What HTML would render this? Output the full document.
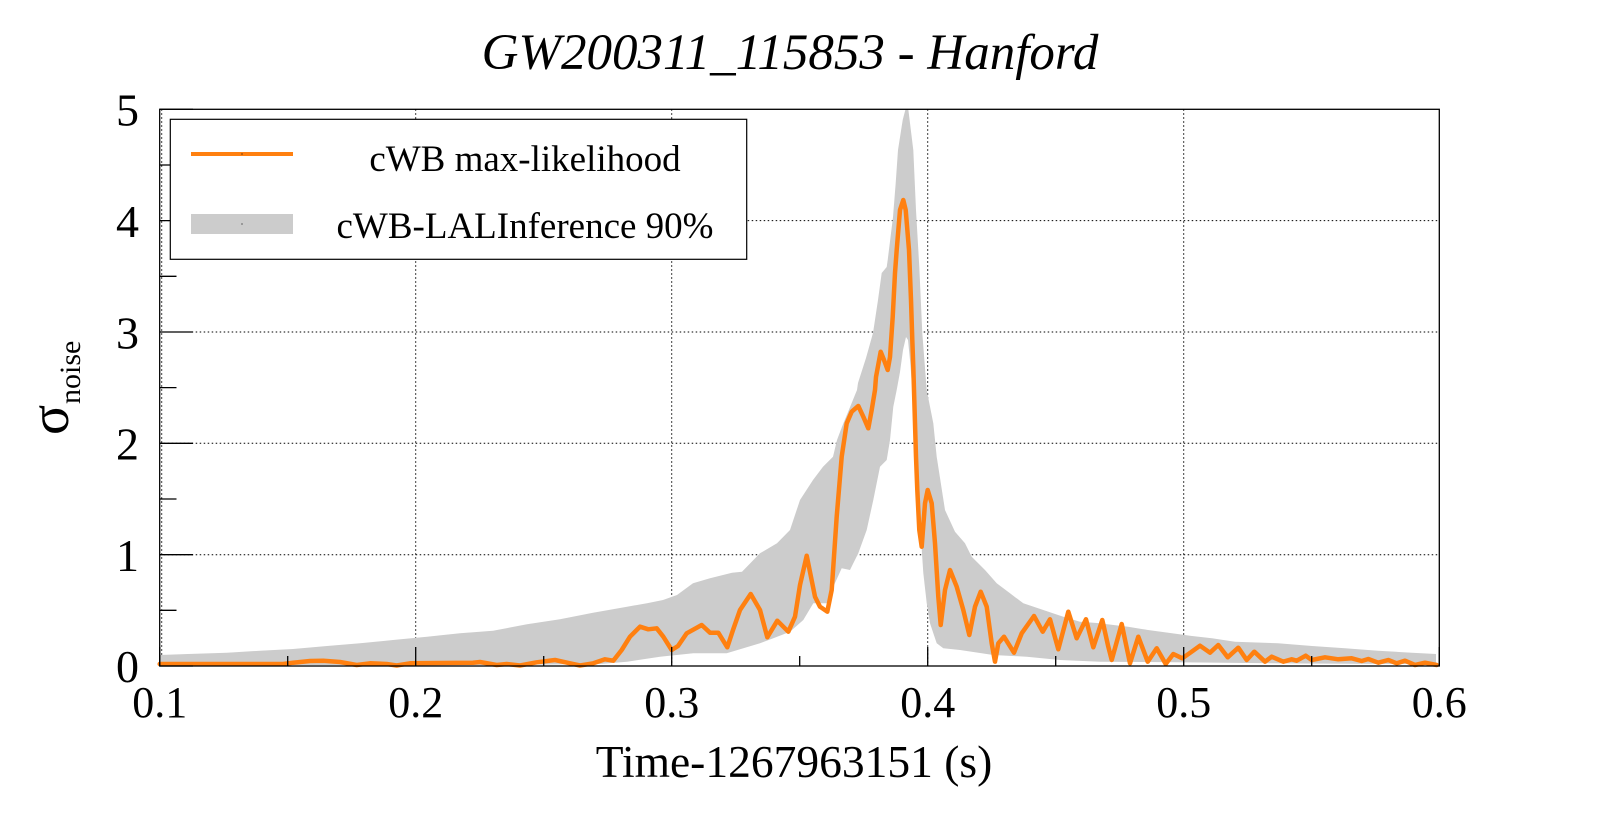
<!DOCTYPE html>
<html>
<head>
<meta charset="utf-8">
<style>
  html, body { margin: 0; padding: 0; background: #ffffff; }
  svg { display: block; }
  text { font-family: "Liberation Serif", "DejaVu Serif", serif; fill: #000; }
</style>
</head>
<body>
<svg width="1599" height="813" viewBox="0 0 1599 813" xmlns="http://www.w3.org/2000/svg">
  <rect x="0" y="0" width="1599" height="813" fill="#ffffff"/>

  <!-- Title -->
  <text x="790" y="69" font-size="51" font-style="italic" text-anchor="middle">GW200311_115853 - Hanford</text>

  <!-- Grid (dotted) -->
  <g stroke="#000" stroke-width="1" stroke-dasharray="1.5 2.5" fill="none">
    <line x1="415.7" y1="109.3" x2="415.7" y2="666"/>
    <line x1="671.7" y1="109.3" x2="671.7" y2="666"/>
    <line x1="927.7" y1="109.3" x2="927.7" y2="666"/>
    <line x1="1183.7" y1="109.3" x2="1183.7" y2="666"/>
    <line x1="159.7" y1="554.7" x2="1439.3" y2="554.7"/>
    <line x1="159.7" y1="443.3" x2="1439.3" y2="443.3"/>
    <line x1="159.7" y1="332" x2="1439.3" y2="332"/>
    <line x1="159.7" y1="220.6" x2="1439.3" y2="220.6"/>
    <line x1="161.7" y1="109.3" x2="161.7" y2="666"/>
  </g>

  <!-- Grey 90% band -->
  <polygon fill="#cccccc" stroke="none" points="
    159.7,655 188,654 227,652.7 260,650.7 293,649 327,646 360,643.3 393,640 427,636.7 460,633.3
    493,630.7 527,624.3 560,619.3 593,612.7 627,606.7 647,603.3 663,600 677,595 693,583.3 710,578.3
    732,572.7 742,571.7 760,553.3 777,543.3 790,530 800,500 813,480 823,466.7 833,456.7 837,440
    842,426.7 857,390 858,383 866,358 873,333 878,300 881.7,273 886.7,267 887.7,260 893,217
    895.7,183 898,150 902.7,120 905.5,109.3 908.3,109.3 913.3,150 916,210 919.3,267 922.3,333
    926.7,390 933.3,423.3 936.7,456.7 945,510 955,531.7 965,543.3 971.7,556.7 985,570 996.7,583.3
    1010,593.3 1023.3,603.3 1043.3,610 1063.3,616.7 1080,621.7 1097,623 1128,626.7 1148,630
    1172,633.3 1192,636 1212,638.3 1235,641.7 1278,643.3 1312,646 1345,648.3 1378,650.7
    1412,652.7 1436,654 1436,664
    1400,664 1300,663.5 1200,662.5 1100,661.7 1060,660 1026.7,656.7 993.3,655 960,650 943.3,648.3
    936.7,643.3 930,623.3 926.7,603 923.3,573 920,523 918,490 916,450 914,410 912,385 910,360
    908,340 906,337 903,350 900,372 896.7,390 893.3,406.7 890,440 886.7,460 880,466.7 873.3,500
    866.7,530 858.3,553.3 853.3,563.3 850,570 841.7,568.3 833.3,586.7 826.7,603.3 813.3,603.3
    803.3,620 790,631.7 773.3,638.3 760,643.3 726.7,653.3 693.3,653.3 660,656.7 627,661.7
    600,664 500,665 159.7,665"/>

  <!-- Orange max-likelihood curve -->
  <polyline fill="none" stroke="#ff8010" stroke-width="4.5" stroke-linejoin="round" stroke-linecap="round" points="
    159.7,664 283,664 293,662.7 310,661 323.3,660.7 340,662 356.7,665 370,663.3 386.7,664 396.7,665.5
    410,663.3 473,662.7 480,662 496.7,665 506.7,664 520,665.5 536.7,662.3 555,660 570,663.3 580,665.5
    593.3,663.3 605,659.3 613.3,660.7 621.7,650 630,636.7 640,626.7 648.3,629.3 656.7,628.3 663.3,636.7
    671.7,650 678,646 686.7,633.3 701.7,625 710,632.7 718.3,632.7 727.3,647.3 733,630 740,610 750.7,594
    760,610 767.3,637.3 777.3,620.7 788.3,631.7 795,616.7 800,585 806.7,555.7 815,596.7 820,606.7
    827.3,611.7 831.7,590 836.7,516.7 841.7,456.7 846.7,423.3 851.7,411.7 858.3,406 863.3,416.7
    868.3,428.3 871.7,410 875,390 876,377 880.7,351.7 884,360 887.7,370 890,357 892.7,317 895,273
    896.7,250 900,210 903.3,200 905.7,210 909,250 911,300 912.3,340 913.3,367 914.3,400 916,456.7
    917.3,490 919.3,530 921.7,546.7 925,503.3 927.7,490 931.7,503.3 935,543.3 938.3,596.7 940.7,625
    945,590 950,570 956.7,586.7 963.3,610 969.3,635 975,606.7 980.7,591.7 986.7,606.7 991.7,643.3
    995,661.7 998.3,643.3 1004,636.7 1014,652.7 1021.7,633.3 1034,616 1042.7,631.7 1050,619.3
    1058.3,649.3 1068.3,611.7 1076.7,638.3 1086,619.3 1093.3,647.3 1102.3,620 1108.3,646.7
    1111.7,660 1121.7,624 1130,663.3 1138.3,636.7 1147.7,661.7 1156.7,648.3 1165.7,664 1173.3,654
    1182.3,658.3 1191.7,651.7 1200,645.7 1210,652.7 1218.3,645 1227.7,657.3 1238.3,647.7 1246.7,660
    1254.3,651.7 1265,661.7 1271.7,656.7 1283.3,661.7 1291.7,659.3 1296.7,660.7 1305.7,655.7
    1311.7,660 1325,657.3 1338.3,659.3 1351.7,658.3 1361.7,661 1368.3,659 1378.3,662.7 1388.3,660
    1396.7,663.3 1405,660.7 1415,665 1425,662.7 1436.7,665"/>

  <!-- Frame -->
  <rect x="159.7" y="109.3" width="1279.6" height="556.7" fill="none" stroke="#000" stroke-width="1.3"/>

  <!-- Y ticks -->
  <g stroke="#000" stroke-width="1.3">
    <line x1="159.7" y1="666" x2="193" y2="666"/>
    <line x1="159.7" y1="554.7" x2="193" y2="554.7"/>
    <line x1="159.7" y1="443.3" x2="193" y2="443.3"/>
    <line x1="159.7" y1="332" x2="193" y2="332"/>
    <line x1="159.7" y1="220.6" x2="193" y2="220.6"/>
    <line x1="159.7" y1="109.3" x2="193" y2="109.3"/>
    <line x1="159.7" y1="610.3" x2="176.5" y2="610.3"/>
    <line x1="159.7" y1="499" x2="176.5" y2="499"/>
    <line x1="159.7" y1="387.6" x2="176.5" y2="387.6"/>
    <line x1="159.7" y1="276.3" x2="176.5" y2="276.3"/>
    <line x1="159.7" y1="165" x2="176.5" y2="165"/>
  </g>

  <!-- X ticks -->
  <g stroke="#000" stroke-width="1.3">
    <line x1="159.7" y1="666" x2="159.7" y2="647"/>
    <line x1="415.7" y1="666" x2="415.7" y2="647"/>
    <line x1="671.7" y1="666" x2="671.7" y2="647"/>
    <line x1="927.7" y1="666" x2="927.7" y2="647"/>
    <line x1="1183.7" y1="666" x2="1183.7" y2="647"/>
    <line x1="1439.3" y1="666" x2="1439.3" y2="647"/>
    <line x1="287.7" y1="666" x2="287.7" y2="656"/>
    <line x1="543.7" y1="666" x2="543.7" y2="656"/>
    <line x1="799.7" y1="666" x2="799.7" y2="656"/>
    <line x1="1055.7" y1="666" x2="1055.7" y2="656"/>
    <line x1="1311.7" y1="666" x2="1311.7" y2="656"/>
  </g>

  <!-- Y tick labels -->
  <g font-size="46" text-anchor="end">
    <text x="139" y="682">0</text>
    <text x="139" y="571">1</text>
    <text x="139" y="459.5">2</text>
    <text x="139" y="348.5">3</text>
    <text x="139" y="237">4</text>
    <text x="139" y="125.5">5</text>
  </g>

  <!-- X tick labels -->
  <g font-size="44" text-anchor="middle">
    <text x="159.7" y="717">0.1</text>
    <text x="415.7" y="717">0.2</text>
    <text x="671.7" y="717">0.3</text>
    <text x="927.7" y="717">0.4</text>
    <text x="1183.7" y="717">0.5</text>
    <text x="1439.3" y="717">0.6</text>
  </g>

  <!-- X axis title -->
  <text x="794" y="777" font-size="45.5" text-anchor="middle">Time-1267963151 (s)</text>

  <!-- Y axis title -->
  <text transform="translate(68,435) rotate(-90)" font-size="56">σ</text>
  <text transform="translate(80,404) rotate(-90)" font-size="30">noise</text>

  <!-- Legend -->
  <rect x="170.3" y="119.3" width="576.4" height="140" fill="#ffffff" stroke="#000" stroke-width="1.2"/>
  <line x1="191" y1="154" x2="293" y2="154" stroke="#ff8010" stroke-width="4"/>
  <rect x="191" y="214" width="102" height="20" fill="#cccccc"/>
  <rect x="241.5" y="153.5" width="1" height="1" fill="#000"/>
  <rect x="241.5" y="223.5" width="1" height="1" fill="#000"/>
  <text x="525" y="171" font-size="37" text-anchor="middle">cWB max-likelihood</text>
  <text x="525" y="238" font-size="37" text-anchor="middle">cWB-LALInference 90%</text>
</svg>
</body>
</html>
